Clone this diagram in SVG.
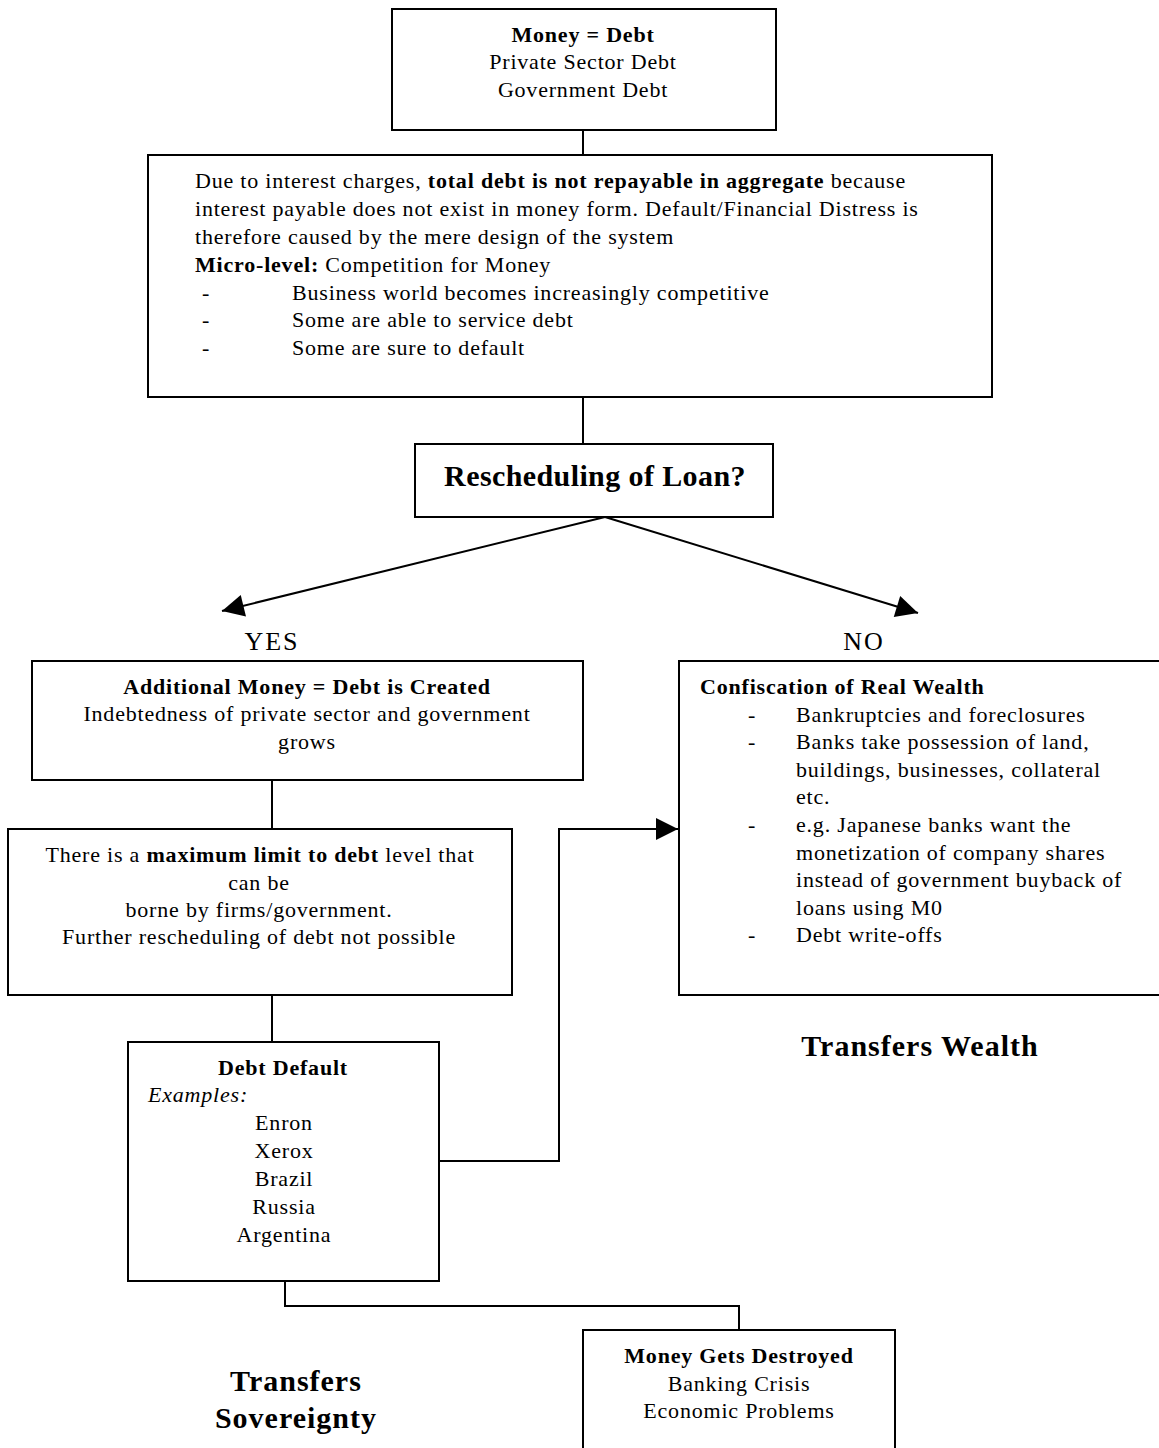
<svg xmlns="http://www.w3.org/2000/svg" width="1159" height="1448" viewBox="0 0 1159 1448">
<style>
text{font-family:"Liberation Serif","Times New Roman",serif;fill:#000}
.t{font-size:22px;letter-spacing:0.8px}
.c{text-anchor:middle}
.b{font-weight:bold}
.big{font-size:30px;font-weight:bold;letter-spacing:1px}
.yn{font-size:26px;letter-spacing:2px}
.box{fill:#fff;stroke:#000;stroke-width:2}
.ln{fill:none;stroke:#000;stroke-width:2}
</style>
<defs>
<marker id="ah2" viewBox="0 0 10 10" refX="10" refY="5" markerWidth="24" markerHeight="22" markerUnits="userSpaceOnUse" orient="auto"><path d="M0,0 L10,5 L0,10 Z" fill="#000"/></marker>
</defs>
<rect width="1159" height="1448" fill="#fff"/>
<g id="connectors">
<line class="ln" x1="583" y1="130" x2="583" y2="155"/>
<line class="ln" x1="583" y1="397" x2="583" y2="444"/>
<line class="ln" x1="605" y1="517" x2="222" y2="611" marker-end="url(#ah2)"/>
<line class="ln" x1="605" y1="517" x2="918" y2="613" marker-end="url(#ah2)"/>
<line class="ln" x1="272" y1="780" x2="272" y2="829"/>
<line class="ln" x1="272" y1="995" x2="272" y2="1042"/>
<polyline class="ln" points="439,1161 559,1161 559,829 678,829" marker-end="url(#ah2)"/>
<polyline class="ln" points="285,1281 285,1306 739,1306 739,1330"/>
</g>
<g id="n1">
<rect class="box" x="392" y="9" width="384" height="121"/>
<text class="t c b" x="583" y="42">Money = Debt</text>
<text class="t c" x="583" y="69">Private Sector Debt</text>
<text class="t c" x="583" y="97">Government Debt</text>
</g>
<g id="n2">
<rect class="box" x="148" y="155" width="844" height="242"/>
<text class="t" x="195" y="188">Due to interest charges, <tspan class="b">total debt is not repayable in aggregate</tspan> because</text>
<text class="t" x="195" y="216">interest payable does not exist in money form.  Default/Financial Distress is</text>
<text class="t" x="195" y="244">therefore caused by the mere design of the system</text>
<text class="t" x="195" y="272"><tspan class="b">Micro-level:</tspan>  Competition for Money</text>
<text class="t" x="202" y="300">-</text><text class="t" x="292" y="300">Business world becomes increasingly competitive</text>
<text class="t" x="202" y="327">-</text><text class="t" x="292" y="327">Some are able to service debt</text>
<text class="t" x="202" y="355">-</text><text class="t" x="292" y="355">Some are sure to default</text>
</g>
<g id="n3">
<rect class="box" x="415" y="444" width="358" height="73"/>
<text class="big c" x="595" y="486" style="letter-spacing:0.4px">Rescheduling of Loan?</text>
</g>
<g id="yes"><text class="yn c" x="272" y="650">YES</text></g>
<g id="no"><text class="yn c" x="864" y="650">NO</text></g>
<g id="n4">
<rect class="box" x="32" y="661" width="551" height="119"/>
<text class="t c b" x="307" y="694">Additional Money = Debt is Created</text>
<text class="t c" x="307" y="721">Indebtedness of private sector and government</text>
<text class="t c" x="307" y="749">grows</text>
</g>
<g id="n5">
<rect class="box" x="8" y="829" width="504" height="166"/>
<text class="t c" x="260" y="862">There is a <tspan class="b">maximum limit to debt</tspan> level that</text>
<text class="t c" x="259" y="890">can be</text>
<text class="t c" x="259" y="917">borne by firms/government.</text>
<text class="t c" x="259" y="944">Further rescheduling of debt not possible</text>
</g>
<g id="n6">
<rect class="box" x="128" y="1042" width="311" height="239"/>
<text class="t c b" x="283" y="1075">Debt Default</text>
<text class="t" x="148" y="1102" font-style="italic">Examples:</text>
<text class="t c" x="284" y="1130">Enron</text>
<text class="t c" x="284" y="1158">Xerox</text>
<text class="t c" x="284" y="1186">Brazil</text>
<text class="t c" x="284" y="1214">Russia</text>
<text class="t c" x="284" y="1242">Argentina</text>
</g>
<g id="n7">
<rect class="box" x="679" y="661" width="490" height="334"/>
<text class="t b" x="700" y="694">Confiscation of Real Wealth</text>
<text class="t" x="748" y="722">-</text><text class="t" x="796" y="722">Bankruptcies and foreclosures</text>
<text class="t" x="748" y="749">-</text><text class="t" x="796" y="749">Banks take possession of land,</text>
<text class="t" x="796" y="777">buildings, businesses, collateral</text>
<text class="t" x="796" y="804">etc.</text>
<text class="t" x="748" y="832">-</text><text class="t" x="796" y="832">e.g. Japanese banks want the</text>
<text class="t" x="796" y="860">monetization of company shares</text>
<text class="t" x="796" y="887">instead of government buyback of</text>
<text class="t" x="796" y="915">loans using M0</text>
<text class="t" x="748" y="942">-</text><text class="t" x="796" y="942">Debt write-offs</text>
</g>
<g id="tw"><text class="big c" x="920" y="1056">Transfers Wealth</text></g>
<g id="ts">
<text class="big c" x="296" y="1391">Transfers</text>
<text class="big c" x="296" y="1428">Sovereignty</text>
</g>
<g id="n8">
<rect class="box" x="583" y="1330" width="312" height="130"/>
<text class="t c b" x="739" y="1363">Money Gets Destroyed</text>
<text class="t c" x="739" y="1391">Banking Crisis</text>
<text class="t c" x="739" y="1418">Economic Problems</text>
</g>
</svg>
